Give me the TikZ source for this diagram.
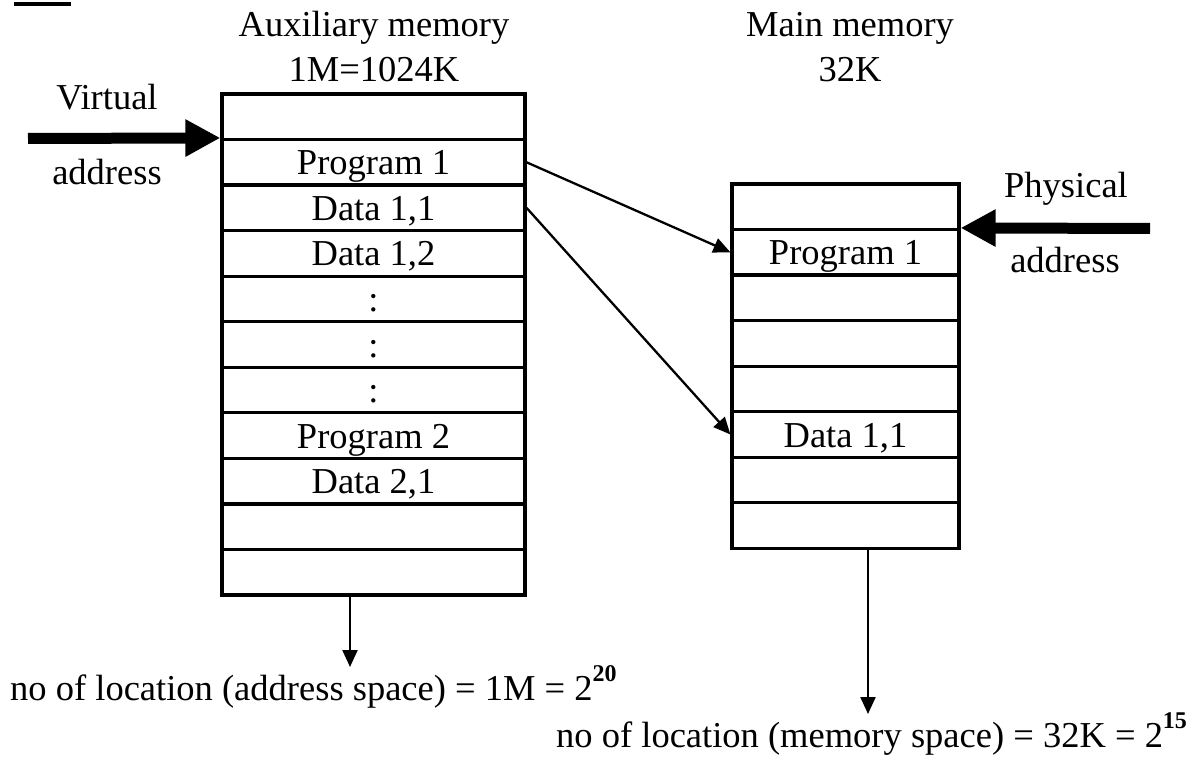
\documentclass[tikz,border=0pt]{standalone}
\usepackage{fontspec}
\setmainfont{Liberation Serif}
\usetikzlibrary{arrows.meta}
\newcommand{\supbold}[1]{\raisebox{0.52em}{\fontsize{24}{26}\selectfont\bfseries #1}}
\begin{document}
\begin{tikzpicture}[x=1pt,y=-1pt,
  txt/.style={inner sep=0pt, font=\fontsize{36.5}{40}\selectfont},
  cell/.style={draw, line width=3.2pt, minimum height=45.55pt, inner sep=0pt,
    text height=33.6pt, text depth=8.6pt, font=\fontsize{36.5}{40}\selectfont},
  auxcell/.style={cell, minimum width=303pt},
  maincell/.style={cell, minimum width=227pt},
  conn/.style={line width=2.3pt, -{Triangle[length=17pt,width=15pt]}},
  bigarrow/.style={line width=11pt, -{Triangle[length=35pt,width=35pt]}}]
\useasboundingbox (0,0) rectangle (1192,757);
\fill (14,2) rectangle (71,6);
% titles
\node[txt, anchor=base] (t1) at (374,37) {Auxiliary memory};
\node[txt, anchor=base] (t2) at (374,82) {1M=1024K};
\node[txt, anchor=base] (t3) at (850,37) {Main memory};
\node[txt, anchor=base] (t4) at (850,82) {32K};
% auxiliary memory cells
\node[auxcell] (a1) at (373.5,116.8) {};
\node[auxcell] (a2) at (373.5,162.3) {Program 1};
\node[auxcell] (a3) at (373.5,207.9) {Data 1,1};
\node[auxcell] (a4) at (373.5,253.4) {Data 1,2};
\node[auxcell] (a5) at (373.5,299.0) {:};
\node[auxcell] (a6) at (373.5,344.5) {:};
\node[auxcell] (a7) at (373.5,390.1) {:};
\node[auxcell] (a8) at (373.5,435.6) {Program 2};
\node[auxcell] (a9) at (373.5,481.2) {Data 2,1};
\node[auxcell] (a10) at (373.5,526.7) {};
\node[auxcell] (a11) at (373.5,572.3) {};
% main memory cells
\node[maincell] (m1) at (845.5,206.8) {};
\node[maincell] (m2) at (845.5,252.3) {Program 1};
\node[maincell] (m3) at (845.5,297.9) {};
\node[maincell] (m4) at (845.5,343.4) {};
\node[maincell] (m5) at (845.5,389.0) {};
\node[maincell] (m6) at (845.5,434.5) {Data 1,1};
\node[maincell] (m7) at (845.5,480.1) {};
\node[maincell] (m8) at (845.5,525.6) {};
% side labels
\node[txt, anchor=base] (v1) at (107,110) {Virtual};
\node[txt, anchor=base] (v2) at (107,185) {address};
\node[txt, anchor=base] (p1) at (1066,197) {Physical};
\node[txt, anchor=base] (p2) at (1065,272) {address};
\coordinate (vstart) at (28,138.5);
\coordinate (pstart) at (1150,228.5);
\draw[bigarrow] (vstart) -- (a2.north west);
\draw[bigarrow] (pstart) -- (m2.north east);
% mapping connectors
\draw[conn] (a2.east) -- (m2.west);
\draw[conn] (a3.east) -- (m6.west);
% bottom
\coordinate (auxtip) at (350,667);
\coordinate (maintip) at (868,714);
\draw[conn] (a11.south -| auxtip) -- (auxtip);
\draw[conn] (m8.south -| maintip) -- (maintip);
\node[txt, anchor=base west] (b1) at (10,700) {no of location (address space) = 1M = 2\supbold{20}};
\node[txt, anchor=base west] (b2) at (556,747) {no of location (memory space) = 32K = 2\supbold{15}};
\end{tikzpicture}
\end{document}
